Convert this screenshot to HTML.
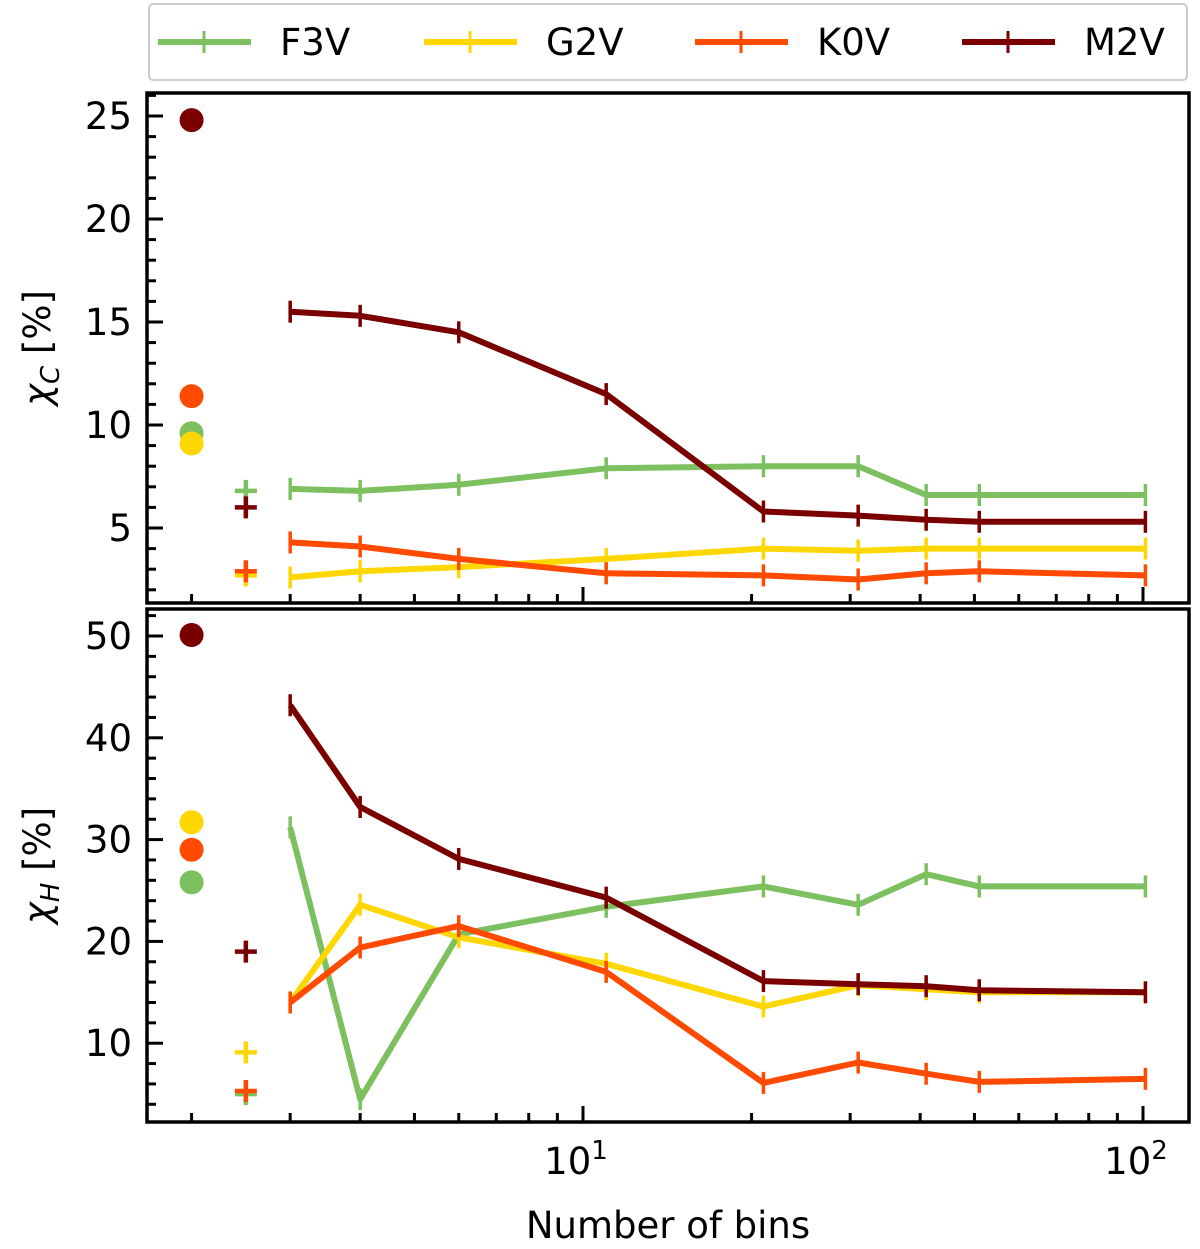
<!DOCTYPE html>
<html><head><meta charset="utf-8"><style>
body{margin:0;background:#fff;}
svg{display:block;font-family:"DejaVu Sans","Liberation Sans",sans-serif;}
</style></head><body>
<svg id="chart" width="1200" height="1249" viewBox="0 0 1200 1249" xmlns="http://www.w3.org/2000/svg"></svg>
<script>
const series = ["F3V","G2V","K0V","M2V"];
const colors = ["#7dc05f","#ffd700","#ff4a00","#7a0000"];
const bins = [3,4,6,11,21,31,41,51,101];
const dotX = 2;
const plusX = 2.5;
// top panel chi_C
const cDots = [9.6, 9.1, 11.4, 24.8];
const cPlus = [6.8, 2.7, 2.9, 6.0];
const cF3V = [6.9,6.8,7.1,7.9,8.0,8.0,6.6,6.6,6.6];
const cG2V = [2.6,2.9,3.1,3.5,4.0,3.9,4.0,4.0,4.0];
const cK0V = [4.3,4.1,3.5,2.8,2.7,2.5,2.8,2.9,2.7];
const cM2V = [15.5,15.3,14.5,11.5,5.8,5.6,5.4,5.3,5.3];
// bottom panel chi_H
const hDots = [25.8, 31.7, 29.0, 50.1];
const hPlus = [5.0, 9.1, 5.3, 19.0];
const hF3V = [31.2,4.5,20.7,23.4,25.4,23.6,26.6,25.4,25.4];
const hG2V = [14.0,23.6,20.4,17.8,13.6,15.7,15.3,15.0,15.0];
const hK0V = [14.0,19.4,21.5,17.0,6.1,8.1,7.0,6.2,6.5];
const hM2V = [43.2,33.2,28.1,24.3,16.1,15.8,15.6,15.2,15.0];
const cTicks = [5,10,15,20,25];
const hTicks = [10,20,30,40,50];

const NS="http://www.w3.org/2000/svg";
const svg=document.getElementById('chart');
function mk(tag,attrs,parent){const e=document.createElementNS(NS,tag);for(const k in attrs)e.setAttribute(k,attrs[k]);(parent||svg).appendChild(e);return e;}
const L=147,R=1189;
const xS=v=>583+560*(Math.log10(v)-1);
const panels=[
 {top:93,bot:603,y:v=>528-(v-5)*20.6,minor:1,ticks:cTicks,dots:cDots,plus:cPlus,lines:[cF3V,cG2V,cK0V,cM2V],lab:"C",name:"chi-c-panel"},
 {top:609,bot:1122,y:v=>636+(50-v)*10.18,minor:2,ticks:hTicks,dots:hDots,plus:hPlus,lines:[hF3V,hG2V,hK0V,hM2V],lab:"H",name:"chi-h-panel"}
];
const xMinor=[2,3,4,5,6,7,8,9,20,30,40,50,60,70,80,90];
panels.forEach(p=>{
 const g=mk('g',{});
 
 
 for(let v=0;v<=60;v+=p.minor){const y=p.y(v);if(y<p.top+2||y>p.bot-2)continue;
  const major=p.ticks.includes(v);
  const t=mk('line',{x1:L,x2:L+(major?16:9),y1:y,y2:y,stroke:'#000','stroke-width':3},g);
  }
 p.ticks.forEach(v=>{const t=mk('text',{x:132,y:p.y(v)+13,'font-size':37,'text-anchor':'end'},g);t.textContent=v;
  });
 xMinor.forEach(v=>{const x=xS(v);if(x<L||x>R)return;
  const t=mk('line',{x1:x,x2:x,y1:p.bot,y2:p.bot-9,stroke:'#000','stroke-width':3},g);
  });
 [10,100].forEach(v=>{const x=xS(v);
  const t=mk('line',{x1:x,x2:x,y1:p.bot,y2:p.bot-16,stroke:'#000','stroke-width':3},g);
  });
 p.lines.forEach((arr,i)=>{
  const pts=arr.map((v,j)=>xS(bins[j]).toFixed(1)+','+p.y(v).toFixed(1)).join(' ');
  const pl=mk('polyline',{points:pts,fill:'none',stroke:colors[i],'stroke-width':6,'stroke-linejoin':'round'},g);
  
  arr.forEach((v,j)=>{const x=xS(bins[j]),y=p.y(v);
   const e=mk('line',{x1:x,x2:x,y1:y-11,y2:y+11,stroke:colors[i],'stroke-width':3.5},g);
   });
 });
 p.dots.forEach((v,i)=>{const c=mk('circle',{cx:xS(dotX),cy:p.y(v),r:12,fill:colors[i]},g);
  });
 p.plus.forEach((v,i)=>{const x=xS(plusX),y=p.y(v);
  const a=mk('path',{d:`M${x-11},${y}H${x+11}M${x},${y-11}V${y+11}`,stroke:colors[i],'stroke-width':4.5},g);
  });
 const fr=mk('rect',{x:L,y:p.top,width:R-L,height:p.bot-p.top,fill:'none',stroke:'#000','stroke-width':3.5},g);
 
 const cy=(p.top+p.bot)/2;
 const yl=mk('text',{x:0,y:0,'font-size':37,'text-anchor':'middle',transform:`translate(50,${cy}) rotate(-90)`},g);
 yl.innerHTML='<tspan font-style="italic">χ</tspan><tspan font-size="26" font-style="italic" dy="9">'+p.lab+'</tspan><tspan dy="-9"> [%]</tspan>';
 
});
[[10,'1'],[100,'2']].forEach(([v,e])=>{
 const t=mk('text',{x:xS(v)-7,y:1174,'font-size':37,'text-anchor':'middle'});
 t.innerHTML='10<tspan font-size="26" dy="-15">'+e+'</tspan>';
 
});
const xt=mk('text',{x:668,y:1238,'font-size':37,'text-anchor':'middle'});
xt.textContent='Number of bins';

const lg=mk('g',{});

const lb=mk('rect',{x:149,y:4,width:1038,height:76,rx:4,fill:'#fff',stroke:'#ccc','stroke-width':2},lg);

const lx=[158,424,695,962];
series.forEach((s,i)=>{
 const e=mk('g',{},lg);
 
 mk('line',{x1:lx[i],x2:lx[i]+93,y1:42,y2:42,stroke:colors[i],'stroke-width':6},e);
 mk('line',{x1:lx[i]+46,x2:lx[i]+46,y1:31,y2:53,stroke:colors[i],'stroke-width':3},e);
 const t=mk('text',{x:lx[i]+122,y:55,'font-size':37},e);t.textContent=s;
});
</script>
</body></html>
